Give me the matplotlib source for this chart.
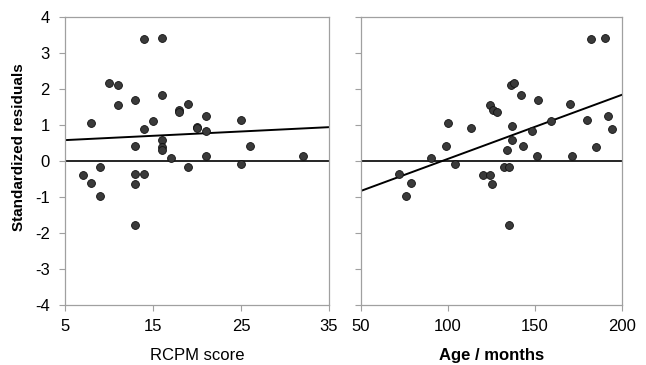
import numpy as np
import matplotlib
matplotlib.use("Agg")
import matplotlib.pyplot as plt

plt.rcParams['font.family'] = ['Liberation Sans', 'DejaVu Sans']
plt.rcParams['axes.unicode_minus'] = False

# standardized residuals (same for both panels)
resid = [3.40, 3.41, 2.17, 2.11, 1.69, 1.84, 1.55, 1.06, 1.43, 1.35,
         1.57, 1.10, 0.89, 0.95, 0.91, 1.26, 0.84, 1.15, 0.42, 0.58,
         0.38, 0.31, 0.09, 0.15, 0.42, 0.13, -0.17, -0.18, -0.09, -0.38,
         -0.37, -0.37, -0.62, -0.65, -0.96, -1.78]

rcpm = [14, 16, 10, 11, 13, 16, 11, 8, 18, 18,
        19, 15, 14, 20, 20, 21, 21, 25, 13, 16,
        16, 16, 17, 21, 26, 32, 9, 19, 25, 7,
        13, 14, 8, 13, 9, 13]

age_x = [182, 190, 136, 138, 142, 152, 124, 126, 128, 170,
         100, 113, 137, 148, 159, 180, 192, 194, 99, 137,
         143, 134, 90, 151, 171, 185, 104, 132, 135, 72,
         120, 124, 79, 125, 76, 135]
age_y = [3.40, 3.41, 2.11, 2.17, 1.84, 1.69, 1.55, 1.43, 1.35, 1.57,
         1.06, 0.92, 0.96, 0.84, 1.10, 1.15, 1.26, 0.89, 0.42, 0.58,
         0.42, 0.31, 0.09, 0.15, 0.13, 0.38, -0.09, -0.18, -0.18, -0.36,
         -0.38, -0.38, -0.62, -0.65, -0.96, -1.78]

# trend lines (end points)
rcpm_line_x = [5, 35]
rcpm_line_y = [0.58, 0.94]
age_line_x = [50, 200]
age_line_y = [-0.83, 1.84]

fig = plt.figure(figsize=(6.46, 3.65), dpi=100)
W, H = 646, 365
ax1 = fig.add_axes([65 / W, 1 - 305 / H, 264 / W, 288 / H])
ax2 = fig.add_axes([361 / W, 1 - 305 / H, 261 / W, 288 / H])

def style(ax):
    for s in ax.spines.values():
        s.set_color('#a0a0a0')
        s.set_linewidth(0.9)
    ax.tick_params(direction='out', length=4, color='#a0a0a0',
                   labelcolor='black')
    ax.tick_params(axis='x', labelsize=12, pad=6)
    ax.tick_params(axis='y', labelsize=12, pad=7)
    ax.set_ylim(-4, 4)
    ax.set_yticks(range(-4, 5))
    ax.axhline(0, color='black', lw=1.2, zorder=2)

for ax, xs, ys, lx, ly in [(ax1, rcpm, resid, rcpm_line_x, rcpm_line_y),
                           (ax2, age_x, age_y, age_line_x, age_line_y)]:
    style(ax)
    ax.plot(lx, ly, color='black', lw=1.4, zorder=2)
    ax.scatter(xs, ys, s=32, color='#3a3a3a', edgecolors='#111111',
               linewidths=0.6, zorder=3)

ax1.set_xlim(5, 35)
ax1.set_xticks([5, 15, 25, 35])
ax1.set_xlabel('RCPM score', fontsize=12)
ax1.set_ylabel('Standardized residuals', fontsize=11, fontweight='bold')
ax1.yaxis.set_label_coords(-0.174, 0.547)
ax1.yaxis.label.set_va('center')

ax2.set_xlim(50, 200)
ax2.set_xticks([50, 100, 150, 200])
ax2.set_yticklabels([])
ax2.set_xlabel('Age / months', fontsize=12, fontweight='bold')

for ax in (ax1, ax2):
    ax.xaxis.set_label_coords(0.5, -0.174)
    ax.xaxis.label.set_va('center')

fig.savefig('out.png', dpi=100)
